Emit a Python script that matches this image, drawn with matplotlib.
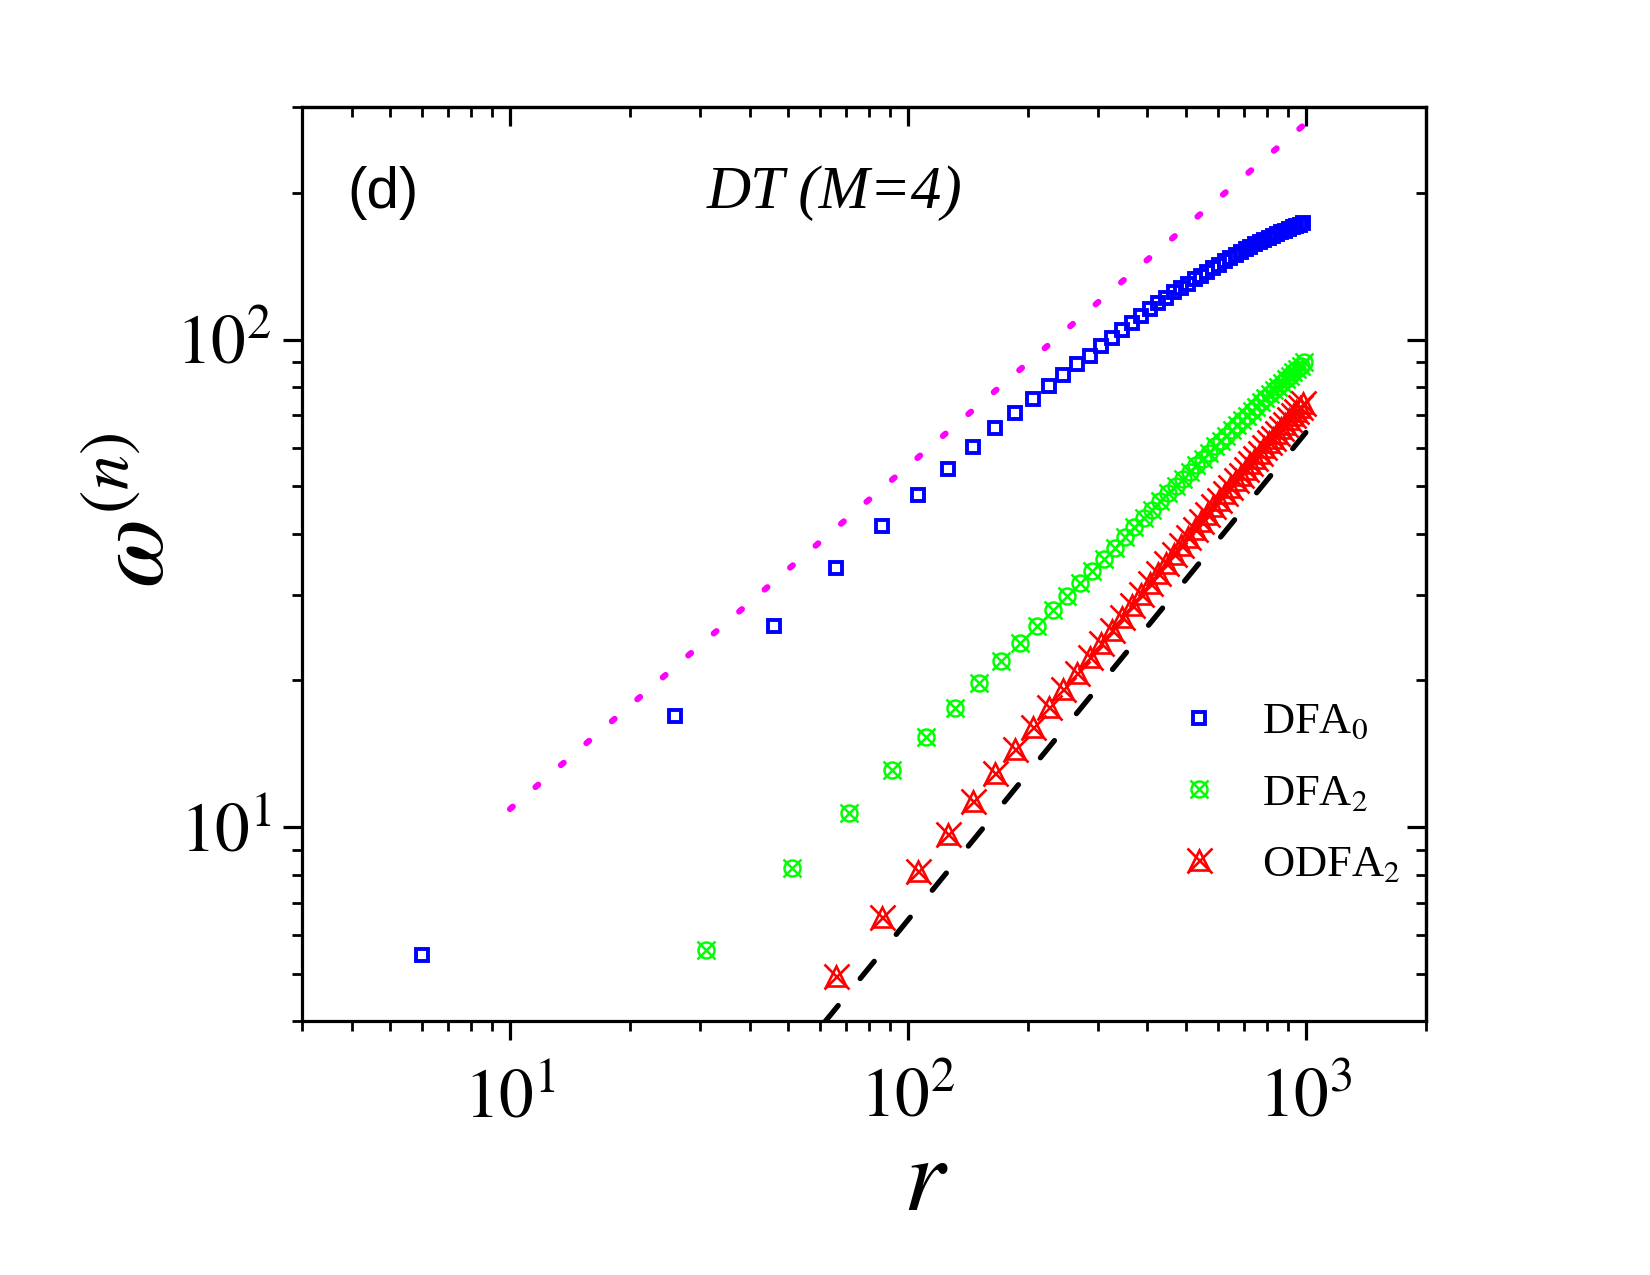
import math
import matplotlib
matplotlib.use("Agg")
import matplotlib.pyplot as plt
from matplotlib.ticker import LogLocator, FixedLocator, FuncFormatter, NullFormatter

# ---------------- data ----------------
r_dfa0 = [6, 26, 46, 66, 86, 106, 126, 146, 166, 186, 206, 226, 246, 266, 286, 306, 326, 346,
          366, 386, 406, 426, 446, 466, 486, 506, 526, 546, 566, 586, 606, 626, 646, 666, 686,
          706, 726, 746, 766, 786, 806, 826, 846, 866, 886, 906, 926, 946, 966, 986]
w_dfa0 = [5.47, 16.9, 25.9, 34.1, 41.4, 48.1, 54.2, 60.2, 65.8, 70.8, 75.6, 80.4, 84.7, 89.0,
          92.8, 97.0, 100.8, 104.5, 108.3, 111.9, 115.4, 118.8, 122.0, 125.0, 127.8, 130.4,
          132.9, 135.4, 137.9, 140.3, 142.6, 144.9, 147.1, 149.2, 151.3, 153.3, 155.2, 157.0,
          158.7, 160.4, 162.0, 163.5, 164.9, 166.2, 167.5, 168.8, 170.0, 171.1, 172.2, 173.2]

r_dfa2 = [31, 51, 71, 91, 111, 131, 151, 171, 191, 211, 231, 251, 271, 291, 311, 331, 351, 371,
          391, 411, 431, 451, 471, 491, 511, 531, 551, 571, 591, 611, 631, 651, 671, 691, 711,
          731, 751, 771, 791, 811, 831, 851, 871, 891, 911, 931, 951, 971, 991]
w_dfa2 = [5.61, 8.24, 10.7, 13.1, 15.3, 17.6, 19.8, 21.9, 23.9, 25.9, 27.9, 29.8, 31.7, 33.6,
          35.5, 37.4, 39.3, 41.2, 43.0, 44.8, 46.6, 48.4, 50.1, 51.9, 53.6, 55.3, 57.0, 58.7,
          60.4, 62.0, 63.6, 65.2, 66.8, 68.4, 69.9, 71.4, 72.9, 74.4, 75.9, 77.3, 78.7, 80.1,
          81.5, 82.9, 84.3, 85.7, 87.1, 88.5, 89.9]

r_odfa2 = [66, 86, 106, 126, 146, 166, 186, 206, 226, 246, 266, 286, 306, 326, 346, 366, 386,
           406, 426, 446, 466, 486, 506, 526, 546, 566, 586, 606, 626, 646, 666, 686, 706, 726,
           746, 766, 786, 806, 826, 846, 866, 886, 906, 926, 946, 966, 986]
w_odfa2 = [4.95, 6.55, 8.15, 9.70, 11.30, 12.90, 14.49, 16.07, 17.63, 19.19, 20.75, 22.31,
           23.87, 25.43, 26.99, 28.55, 30.11, 31.67, 33.23, 34.79, 36.35, 37.91, 39.45, 40.98,
           42.5, 44.0, 45.5, 47.0, 48.5, 49.96, 51.44, 52.9, 54.37, 55.8, 57.3, 58.7, 60.2,
           61.6, 63.0, 64.4, 65.8, 67.2, 68.7, 70.1, 71.5, 72.9, 74.3]

ref_dot_r = [10, 1000]
ref_dot_w = [10.9, 278]
ref_dash_r = [50, 1000]
ref_dash_w = [3.225, 64.5]

legend_labels = ["DFA$_0$", "DFA$_2$", "ODFA$_2$"]
x_major = [10, 100, 1000]
y_major = [10, 100]
panel_label = "(d)"
panel_title = "DT (M=4)"

# ---------------- style ----------------
plt.rcParams["font.family"] = ["Liberation Serif", "DejaVu Serif"]
plt.rcParams["mathtext.fontset"] = "stix"

fig = plt.figure(figsize=(16.5, 12.75), dpi=100)
ax = fig.add_axes([0.183, 0.199, 0.681, 0.717])

ax.set_xscale("log")
ax.set_yscale("log")
ax.set_xlim(3, 2000)
ax.set_ylim(4, 300)

blue, green, red, mag = "#0000FF", "#00FF00", "#FF0000", "#FF00FF"

ax.plot(ref_dot_r, ref_dot_w, color=mag, lw=4.4, linestyle=(0, (0.6, 4.9)),
        dash_capstyle="round", zorder=2)
ax.plot(ref_dash_r, ref_dash_w, color="black", lw=3.8, linestyle=(0, (4.2, 6.6)),
        dash_capstyle="round", zorder=2)

h0, = ax.plot(r_dfa0, w_dfa0, ls="none", marker="s", ms=9, mfc="none", mec=blue, mew=2.8,
              zorder=3)
h2a, = ax.plot(r_dfa2, w_dfa2, ls="none", marker="o", ms=11.5, mfc="none", mec=green, mew=1.8,
               zorder=3)
h2b, = ax.plot(r_dfa2, w_dfa2, ls="none", marker="x", ms=12.5, mec=green, mew=1.8, zorder=3)
h3a, = ax.plot(r_odfa2, w_odfa2, ls="none", marker="^", ms=15, mfc="none", mec=red, mew=1.9,
               zorder=3)
h3b, = ax.plot(r_odfa2, w_odfa2, ls="none", marker="x", ms=18, mec=red, mew=1.9, zorder=3)

# axes / ticks
for s in ax.spines.values():
    s.set_linewidth(2.3)

fmt = FuncFormatter(lambda v, p: r"$\mathrm{10^{%d}}$" % round(math.log10(v)))
ax.xaxis.set_major_locator(FixedLocator(x_major))
ax.yaxis.set_major_locator(FixedLocator(y_major))
ax.xaxis.set_minor_locator(LogLocator(base=10, subs=range(2, 10), numticks=20))
ax.yaxis.set_minor_locator(LogLocator(base=10, subs=range(2, 10), numticks=20))
ax.xaxis.set_major_formatter(fmt)
ax.yaxis.set_major_formatter(fmt)
ax.xaxis.set_minor_formatter(NullFormatter())
ax.yaxis.set_minor_formatter(NullFormatter())
ax.tick_params(which="major", direction="out", length=14, width=2.3, labelsize=50)
ax.tick_params(which="minor", direction="out", length=7.5, width=2.0)
ax.tick_params(axis="x", which="major", pad=20)
ax.tick_params(axis="y", which="major", pad=8)

secx = ax.secondary_xaxis("top")
secx.xaxis.set_major_locator(FixedLocator(x_major))
secx.xaxis.set_minor_locator(LogLocator(base=10, subs=range(2, 10), numticks=20))
secx.xaxis.set_major_formatter(NullFormatter())
secx.xaxis.set_minor_formatter(NullFormatter())
secx.tick_params(which="major", direction="in", length=14, width=2.3)
secx.tick_params(which="minor", direction="in", length=7.5, width=2.0)
secx.spines["top"].set_linewidth(2.3)

secy = ax.secondary_yaxis("right")
secy.yaxis.set_major_locator(FixedLocator(y_major))
secy.yaxis.set_minor_locator(LogLocator(base=10, subs=range(2, 10), numticks=20))
secy.yaxis.set_major_formatter(NullFormatter())
secy.yaxis.set_minor_formatter(NullFormatter())
secy.tick_params(which="major", direction="in", length=14, width=2.3)
secy.tick_params(which="minor", direction="in", length=7.5, width=2.0)
secy.spines["right"].set_linewidth(2.3)

# labels
fig.text(0.561, 0.071, "$r$", fontsize=76, ha="center", va="center")
fig.text(0.085, 0.600, r"$\omega^{(n)}$", fontsize=72, ha="center", va="center", rotation=90)

ax.text(0.040, 0.906, panel_label, transform=ax.transAxes, fontsize=42,
        family=["Liberation Sans", "DejaVu Sans"], ha="left", va="center")
ax.text(0.474, 0.906, panel_title, transform=ax.transAxes, fontsize=44,
        style="italic", ha="center", va="center")

leg = ax.legend([h0, (h2a, h2b), (h3a, h3b)], legend_labels, loc="upper left",
                bbox_to_anchor=(0.779, 0.349), frameon=False, fontsize=32,
                handlelength=1.0, handletextpad=0.9, labelspacing=0.7,
                borderpad=0, borderaxespad=0)

fig.savefig("out.png", dpi=100)
